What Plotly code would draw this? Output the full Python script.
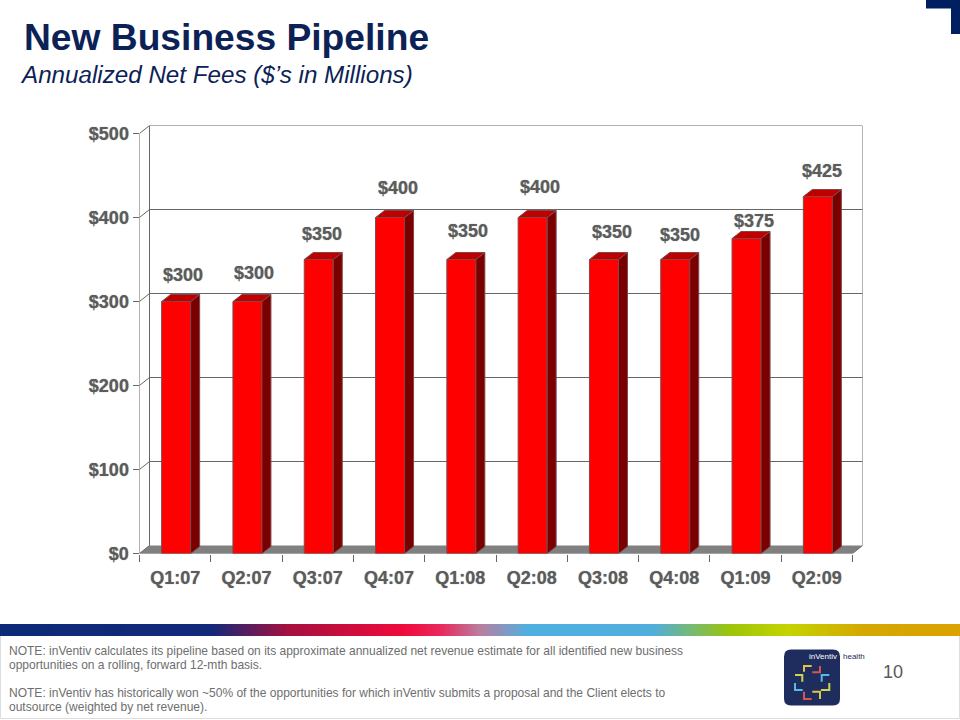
import numpy as np
import plotly.graph_objects as go

W, H = 960, 720

# ---- data ----
quarters = ["Q1:07", "Q2:07", "Q3:07", "Q4:07", "Q1:08", "Q2:08", "Q3:08", "Q4:08", "Q1:09", "Q2:09"]
pipeline = [300, 300, 350, 400, 350, 400, 350, 350, 375, 425]
y_ticks = [0, 100, 200, 300, 400, 500]
y_labels = ["$0", "$100", "$200", "$300", "$400", "$500"]
label_dx = [8, 8, 4, 9, 8, 8, 9, 6, 8, 5]
label_dy = [26, 28, 25, 29, 28, 30, 27, 24, 17, 25]

title = "New Business Pipeline"
subtitle = "Annualized Net Fees ($\u2019s in Millions)"
notes = [
    ("NOTE: inVentiv calculates its pipeline based on its approximate annualized net revenue estimate for all identified new business", 650.5),
    ("opportunities on a rolling, forward 12-mth basis.", 664.5),
    ("NOTE: inVentiv has historically won ~50% of the opportunities for which inVentiv submits a proposal and the Client elects to", 693),
    ("outsource (weighted by net revenue).", 707),
]
grad_pos = [0, .22, .30, .42, .46, .50, .55, .68, .76, .82, .90, 1]
grad_col = ["#0c2a78", "#12297a", "#a5103f", "#f00a3c", "#e82a5c", "#b97fa0", "#4fb0e0", "#50aedc", "#9cc40a", "#c4d400", "#d4a800", "#dba200"]

# ---- geometry helpers ----
X0, X1, YB, YT = 139.5, 862.5, 553.5, 125.5
PX_PER_CAT = 71.3
PX_PER_VAL = 0.84
wall_dx, wall_dy = 10 / PX_PER_CAT, 8 / PX_PER_VAL
bar_dx, bar_dy = 9 / PX_PER_CAT, 7 / PX_PER_VAL
bar_w = 29 / PX_PER_CAT
bar_shift = 1 / PX_PER_CAT
x_lo, x_hi = -0.5, len(quarters) - 0.5
px = lambda v: v / W
py = lambda v: 1 - v / H

AX = "#666666"
TXT = "#5c5c5c"
NAVY = "#0c2257"
SHADOW = "0 0 1px #8a8a8a"

fig = go.Figure()

# gradient band
gx = np.linspace(0, 1, 481)
fig.add_trace(go.Heatmap(x=gx, y=[0], z=[gx], xaxis="x2", yaxis="y2", showscale=False,
                         colorscale=[[p, c] for p, c in zip(grad_pos, grad_col)], hoverinfo="skip"))

bx = np.arange(len(quarters)) + bar_shift
fig.add_trace(go.Bar(x=bx, y=pipeline, width=bar_w, marker=dict(color="#ff0000", line=dict(color="#80484a", width=1)),
                     showlegend=False, hoverinfo="skip"))

for xc, v in zip(bx, pipeline):
    l, r = xc - bar_w / 2, xc + bar_w / 2
    fig.add_trace(go.Scatter(x=[r, r + bar_dx, r + bar_dx, r, r], y=[0, bar_dy, v + bar_dy, v, 0], mode="lines",
                             fill="toself", fillcolor="#7a0000", line=dict(color="#80484a", width=1),
                             showlegend=False, hoverinfo="skip"))
    fig.add_trace(go.Scatter(x=[l, r, r + bar_dx, l + bar_dx, l], y=[v, v, v + bar_dy, v + bar_dy, v], mode="lines",
                             fill="toself", fillcolor="#bf0000", line=dict(color="#80484a", width=1),
                             showlegend=False, hoverinfo="skip"))

shapes = []
line = dict(color=AX, width=1)
# floor
shapes.append(dict(type="path", xref="x", yref="y", layer="below", line=dict(width=0), fillcolor="#808080",
                   path=f"M{x_lo},0 L{x_hi},0 L{x_hi + wall_dx},{wall_dy} L{x_lo + wall_dx},{wall_dy} Z"))
for t in y_ticks:
    shapes.append(dict(type="line", xref="x", yref="y", layer="below", line=line,
                       x0=x_lo, x1=x_lo + wall_dx, y0=t, y1=t + wall_dy))
    if t > 0:
        shapes.append(dict(type="line", xref="x", yref="y", layer="below", line=line,
                           x0=x_lo + wall_dx, x1=x_hi + wall_dx, y0=t + wall_dy, y1=t + wall_dy))
for xx in (x_lo + wall_dx, x_hi + wall_dx):
    shapes.append(dict(type="line", xref="x", yref="y", layer="below", line=line,
                       x0=xx, x1=xx, y0=wall_dy, y1=500 + wall_dy))
shapes.append(dict(type="line", xref="x", yref="y", layer="below", line=line, x0=x_lo, x1=x_lo, y0=0, y1=500))
shapes.append(dict(type="line", xref="x", yref="y", layer="below", line=line, x0=x_lo, x1=x_hi, y0=0, y1=0))
shapes.append(dict(type="line", xref="x", yref="y", layer="below", line=line,
                   x0=x_hi, x1=x_hi + wall_dx, y0=0, y1=wall_dy))


def ppath(points):
    return "M" + " L".join(f"{px(a)},{py(b)}" for a, b in points)


# page furniture (paper coordinates)
for pts in ([(926, 0), (960, 0), (960, 34), (951, 34), (951, 8.5), (926, 8.5)],):
    shapes.append(dict(type="path", xref="paper", yref="paper", path=ppath(pts) + " Z", fillcolor="#001f60", line=dict(width=0)))
# footer border
for a, b, c, d in ((0.5, 636, 0.5, 718.5), (0.5, 718.5, 959.5, 718.5), (959.5, 636, 959.5, 718.5)):
    shapes.append(dict(type="line", xref="paper", yref="paper", x0=px(a), y0=py(b), x1=px(c), y1=py(d),
                       line=dict(color="#dddddd", width=1)))
# logo
lx0, lx1, ly0, ly1, rr = 784, 840, 649.5, 705.5, 7
logo = (f"M{px(lx0 + rr)},{py(ly0)} L{px(lx1 - rr)},{py(ly0)} Q{px(lx1)},{py(ly0)} {px(lx1)},{py(ly0 + rr)} "
        f"L{px(lx1)},{py(ly1 - rr)} Q{px(lx1)},{py(ly1)} {px(lx1 - rr)},{py(ly1)} "
        f"L{px(lx0 + rr)},{py(ly1)} Q{px(lx0)},{py(ly1)} {px(lx0)},{py(ly1 - rr)} "
        f"L{px(lx0)},{py(ly0 + rr)} Q{px(lx0)},{py(ly0)} {px(lx0 + rr)},{py(ly0)} Z")
shapes.append(dict(type="path", xref="paper", yref="paper", path=logo, fillcolor="#1e2d5e", line=dict(width=0)))
marks = [
    ("#e3c24a", [(804, 671.7), (804, 666), (811.7, 666)]),
    ("#d9534f", [(812.3, 672.3), (820, 672.3), (820, 666)]),
    ("#c9d84a", [(795, 675), (802.3, 675), (802.3, 681.7)]),
    ("#5bb8e6", [(829.3, 675), (821.7, 675), (821.7, 681.7)]),
    ("#5bb8e6", [(795, 683), (795, 690), (802.7, 690)]),
    ("#c9d84a", [(829.3, 683), (829.3, 690), (821, 690)]),
    ("#d9534f", [(804, 691.7), (804, 699), (811.7, 699)]),
    ("#e3c24a", [(812.3, 691.7), (820, 691.7), (820, 699)]),
]
for col, pts in marks:
    shapes.append(dict(type="path", xref="paper", yref="paper", path=ppath(pts), line=dict(color=col, width=2)))

ann = []
LS = "Liberation Sans"
for i, (q, v) in enumerate(zip(quarters, pipeline)):
    ann.append(dict(x=i, y=v, xref="x", yref="y", text=f"${v}", showarrow=False, xanchor="center", yanchor="middle",
                    xshift=label_dx[i], yshift=label_dy[i],
                    font=dict(family=LS, size=18, color=TXT, weight="bold", shadow=SHADOW)))


def ptext(text, x, y, size, color, anchor="left", weight="normal", style="normal"):
    ann.append(dict(x=px(x), y=py(y), xref="paper", yref="paper", text=text, showarrow=False, xanchor=anchor,
                    yanchor="middle", borderpad=0,
                    font=dict(family=LS, size=size, color=color, weight=weight, style=style)))


ptext(title, 23, 37, 37.2, NAVY, weight="bold")
ptext(subtitle, 18.5, 75, 24.2, NAVY, style="italic")
for t, yy in notes:
    ptext(t, 8, yy, 12.03, "#6e6e6e")
ptext("10", 882, 672, 18, "#595959")
ptext("inVentiv", 808, 656.5, 8, "#ffffff")
ptext("health", 842, 656.5, 8, "#1e2d5e")

fig.update_layout(
    width=W, height=H, margin=dict(l=0, r=0, t=0, b=0, autoexpand=False), paper_bgcolor="white",
    plot_bgcolor="rgba(0,0,0,0)",
    showlegend=False, shapes=shapes, annotations=ann, barmode="overlay",
    xaxis=dict(domain=[px(X0), px(X1)], range=[x_lo, x_hi + wall_dx], tickmode="array",
               tickvals=list(range(len(quarters))), ticktext=quarters, ticks="", showgrid=False, zeroline=False,
               showline=False, ticklabelstandoff=11,
               tickfont=dict(family=LS, size=18, color=TXT, weight="bold", shadow=SHADOW),
               minor=dict(tickmode="array", tickvals=[i - 0.5 for i in range(len(quarters) + 1)], ticks="outside",
                          ticklen=7, tickcolor=AX, tickwidth=1, showgrid=False)),
    yaxis=dict(domain=[py(YB), py(YT)], range=[0, 500 + wall_dy], tickmode="array", tickvals=y_ticks, ticktext=y_labels,
               ticks="outside", ticklen=6, tickcolor=AX, tickwidth=1, showgrid=False, zeroline=False, showline=False,
               tickfont=dict(family=LS, size=18, color=TXT, weight="bold", shadow=SHADOW)),
    xaxis2=dict(domain=[0, 1], range=[0, 1], visible=False, anchor="y2"),
    yaxis2=dict(domain=[py(636), py(624)], range=[-0.5, 0.5], visible=False, anchor="x2"),
)

fig.write_html("out.html", config=dict(displayModeBar=False),
               post_script="document.body.style.margin='0';document.body.style.overflow='hidden';")
